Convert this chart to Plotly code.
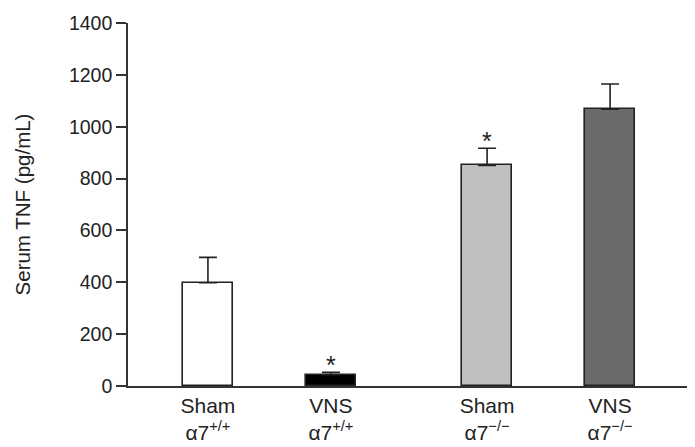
import plotly.graph_objects as go

# Data
groups = ["Sham<br>α7<sup>+/+</sup>", "VNS<br>α7<sup>+/+</sup>", "Sham<br>α7<sup>−/−</sup>", "VNS<br>α7<sup>−/−</sup>"]
positions = [1.0, 2.0, 3.27, 4.27]
tnf_mean = [398, 44, 851, 1068]
tnf_sem = [98, 9, 66, 97]
significance = ["", "*", "*", ""]
bar_colors = ["#ffffff", "#000000", "#c0c0c0", "#6b6b6b"]
y_ticks = [0, 200, 400, 600, 800, 1000, 1200, 1400]

fig = go.Figure()
fig.add_trace(go.Bar(
    x=positions, y=tnf_mean, width=0.405,
    marker=dict(color=bar_colors, line=dict(color="#222222", width=1.6)),
    error_y=dict(type="data", array=tnf_sem, arrayminus=[0]*4, symmetric=False,
                 color="#222222", thickness=1.6, width=9),
    showlegend=False,
))

for xp, m, e, s in zip(positions, tnf_mean, tnf_sem, significance):
    if s:
        fig.add_annotation(x=xp, y=m + e, text=s, showarrow=False, yanchor="bottom",
                           yshift=-9, font=dict(size=25, color="#222222", family="Liberation Sans"))

fig.update_layout(
    width=687, height=439,
    margin=dict(l=120, r=5, t=15, b=61),
    plot_bgcolor="white", paper_bgcolor="white",
    font=dict(family="Liberation Sans, Arial, sans-serif", color="#222222", size=19),
    bargap=0,
)
fig.update_xaxes(
    range=[0.35, 4.92], tickmode="array", tickvals=positions, ticktext=groups,
    showline=True, linecolor="#333333", linewidth=1.6, ticks="", showgrid=False,
    zeroline=False, tickfont=dict(size=21), automargin=False,
)
fig.update_yaxes(
    range=[0, 1400], tickmode="array", tickvals=y_ticks,
    showline=True, linecolor="#333333", linewidth=1.6, ticks="outside", ticklen=10,
    tickwidth=1.6, tickcolor="#333333", showgrid=False, zeroline=False,
    tickfont=dict(size=19.5), automargin=False,
    title=dict(text="Serum TNF (pg/mL)", font=dict(size=20.5), standoff=33),
)

fig.write_html("out.html")
